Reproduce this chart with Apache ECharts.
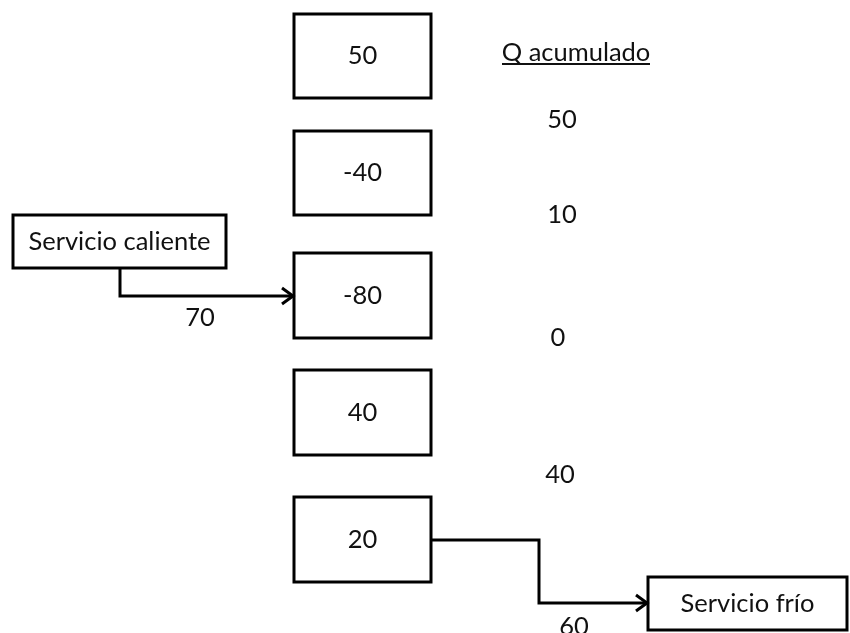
<!DOCTYPE html>
<html>
<head>
<meta charset="utf-8">
<script src="https://cdn.jsdelivr.net/npm/echarts@6/dist/echarts.min.js"></script>
<style>html,body{margin:0;padding:0;background:#fff}#c{width:850px;height:633px}</style>
</head>
<body>
<div id="c"></div>
<script>
// ---- data ----
const intervalLabels = ['50', '-40', '-80', '40', '20'];
const intervalHeat = [50, -40, -80, 40, 20];
const cumulativeTitle = 'Q acumulado';
const cumulativeHeat = [50, 10, 0, 40];
const hotUtilityName = 'Servicio caliente';
const hotUtility = 70;
const coldUtilityName = 'Servicio frío';
const coldUtility = 60;

// ---- layout (axis units = pixels of the diagram) ----
const boxX = [294, 431];
const boxTop = [14, 131, 253, 370, 497];
const boxBottom = [98, 215, 338, 455, 582];
const cumX = [562, 562, 558, 560];
const cumY = [120, 215, 338, 475];
const titlePos = [576, 53];
const titleLine = [502, 650, 64];
const hotBox = [13, 215, 226, 268];
const hotPath = [[120, 268], [120, 296], [293, 296]];
const hotLabelPos = [200, 318];
const coldBox = [648, 577, 847, 630];
const coldPath = [[431, 540], [539, 540], [539, 603], [647, 603]];
const coldLabelPos = [574, 627];

const FONT = 'Lato';
const FS = 25.5;
const INK = '#000';
const LW = 3;

function txt(p, s) {
  return { type: 'text', style: { text: s, x: p[0], y: p[1], align: 'center', verticalAlign: 'middle',
    fontFamily: FONT, fontSize: FS, fill: '#111' } };
}
function rect(p0, p1) {
  return { type: 'rect', shape: { x: p0[0], y: p0[1], width: p1[0] - p0[0], height: p1[1] - p0[1] },
    style: { fill: '#fff', stroke: INK, lineWidth: LW, lineJoin: 'miter' } };
}
function arrow(api, path) {
  const pts = path.map(p => api.coord(p));
  const tip = pts[pts.length - 1];
  return [
    { type: 'polyline', shape: { points: pts }, style: { stroke: INK, lineWidth: LW, fill: null, lineJoin: 'miter' } },
    { type: 'polyline', shape: { points: [[tip[0] - 11, tip[1] - 8], tip, [tip[0] - 11, tip[1] + 8]] },
      style: { stroke: INK, lineWidth: LW, fill: null, lineJoin: 'miter' } }
  ];
}

const chart = echarts.init(document.getElementById('c'), null, { renderer: 'canvas' });
chart.setOption({
  animation: false,
  grid: { left: 0, right: 0, top: 0, bottom: 0 },
  xAxis: { type: 'value', min: 0, max: 850, show: false },
  yAxis: { type: 'value', min: 0, max: 633, inverse: true, show: false },
  series: [
    {
      type: 'custom', name: 'intervals', clip: false,
      data: intervalHeat.map((v, i) => [i, v]),
      renderItem: (params, api) => {
        const i = params.dataIndex;
        const p0 = api.coord([boxX[0], boxTop[i]]);
        const p1 = api.coord([boxX[1], boxBottom[i]]);
        return { type: 'group', children: [rect(p0, p1), txt([(p0[0] + p1[0]) / 2, (p0[1] + p1[1]) / 2], intervalLabels[i])] };
      }
    },
    {
      type: 'custom', name: 'cumulative', clip: false,
      data: cumulativeHeat.map((v, i) => [i, v]),
      renderItem: (params, api) => {
        const i = params.dataIndex;
        return txt(api.coord([cumX[i], cumY[i]]), String(api.value(1)));
      }
    },
    {
      type: 'custom', name: 'title', clip: false,
      data: [[0, 0]],
      renderItem: (params, api) => {
        const a = api.coord([titleLine[0], titleLine[2]]);
        const b = api.coord([titleLine[1], titleLine[2]]);
        return { type: 'group', children: [
          txt(api.coord(titlePos), cumulativeTitle),
          { type: 'line', shape: { x1: a[0], y1: a[1], x2: b[0], y2: b[1] }, style: { stroke: '#111', lineWidth: 2 } }
        ] };
      }
    },
    {
      type: 'custom', name: 'utilities', clip: false,
      data: [[0, hotUtility], [1, coldUtility]],
      renderItem: (params, api) => {
        const i = params.dataIndex;
        const box = i === 0 ? hotBox : coldBox;
        const path = i === 0 ? hotPath : coldPath;
        const lab = i === 0 ? hotLabelPos : coldLabelPos;
        const name = i === 0 ? hotUtilityName : coldUtilityName;
        const p0 = api.coord([box[0], box[1]]);
        const p1 = api.coord([box[2], box[3]]);
        return { type: 'group', children: [
          rect(p0, p1),
          txt([(p0[0] + p1[0]) / 2, (p0[1] + p1[1]) / 2], name),
          ...arrow(api, path),
          txt(api.coord(lab), String(api.value(1)))
        ] };
      }
    }
  ]
});
</script>
</body>
</html>
